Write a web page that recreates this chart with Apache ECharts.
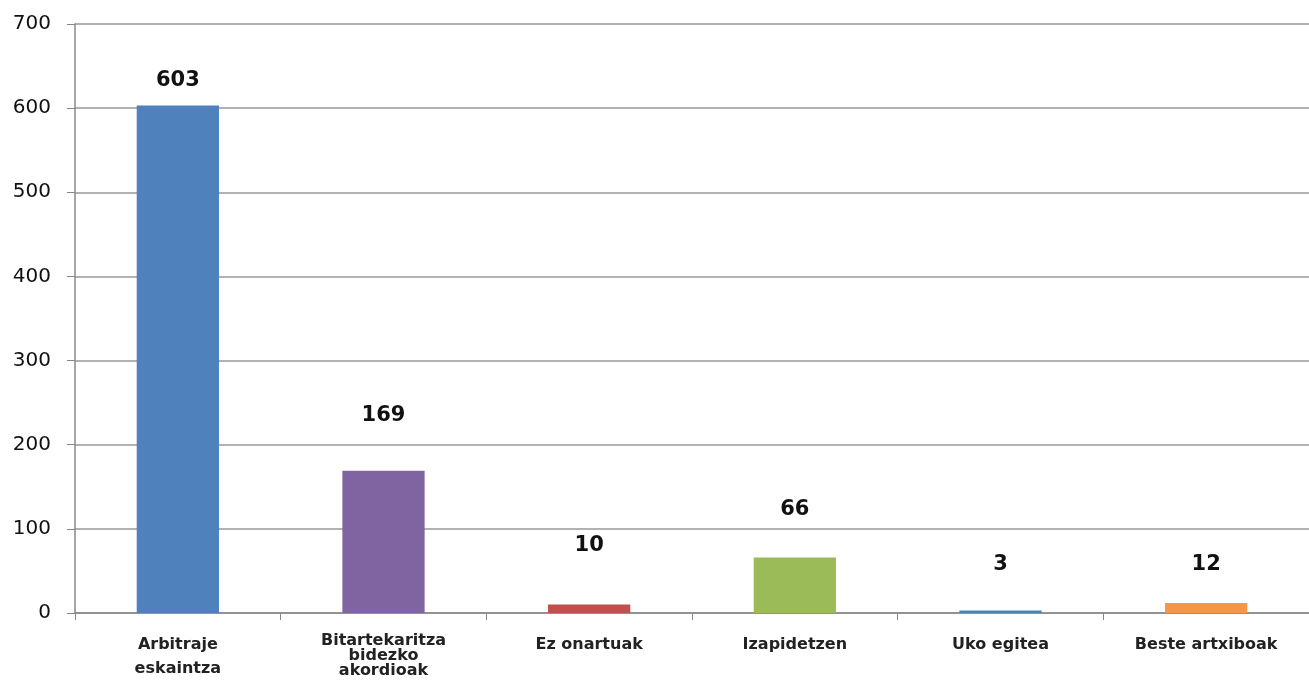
<!DOCTYPE html>
<html lang="eu">
<head>
  <meta charset="UTF-8">
  <title>Espedienteak</title>
  <script src="https://cdn.jsdelivr.net/npm/echarts@6/dist/echarts.min.js"></script>
  <style>
    html, body { margin: 0; padding: 0; background: #fff; }
    #chart { width: 1309px; height: 684px; }
  </style>
</head>
<body>
  <div id="chart"></div>
  <script>
    // datuak
    const categories = ['Arbitraje\neskaintza', 'Bitartekaritza\nbidezko\nakordioak', 'Ez onartuak', 'Izapidetzen', 'Uko egitea', 'Beste artxiboak'];
    const values = [603, 169, 10, 66, 3, 12];
    const barColors = ['#4F81BD', '#8064A2', '#C0504D', '#9BBB59', '#4F81BD', '#F79646'];
    const labelGaps = [15, 45, 49, 37, 35, 28];
    const yTicks = [0, 100, 200, 300, 400, 500, 600, 700];

    const myChart = echarts.init(document.getElementById('chart'));

    const option = {
      animation: false,
      grid: { left: 75, right: -10, top: 24, bottom: 71 },
      xAxis: {
        type: 'category',
        data: categories,
        axisLine: { lineStyle: { color: '#888', width: 1.5 } },
        axisTick: { show: true, length: 7, lineStyle: { color: '#888' } },
        axisLabel: {
          interval: 0,
          margin: 20,
          color: '#222',
          fontFamily: 'DejaVu Sans',
          fontWeight: 'bold',
          fontSize: 16,
          lineHeight: 24,
          formatter: function (v) {
            if (v.indexOf('Bitartekaritza') === 0) return '{t|' + v.replace(/\n/g, '}\n{t|') + '}';
            return v;
          },
          rich: { t: { fontFamily: 'DejaVu Sans', fontWeight: 'bold', fontSize: 16, lineHeight: 15, color: '#222' } }
        }
      },
      yAxis: {
        type: 'value',
        min: yTicks[0],
        max: yTicks[yTicks.length - 1],
        interval: 100,
        axisLine: { show: true, lineStyle: { color: '#888', width: 1.5 } },
        axisTick: { show: true, length: 8, lineStyle: { color: '#888' } },
        splitLine: { lineStyle: { color: '#999', width: 1.5 } },
        axisLabel: { margin: 24, color: '#111', fontFamily: 'DejaVu Sans', fontSize: 20 }
      },
      series: [{
        type: 'bar',
        barWidth: '40%',
        data: values.map((v, i) => ({
          value: v,
          itemStyle: { color: barColors[i] },
          label: { distance: labelGaps[i] }
        })),
        label: {
          show: true,
          position: 'top',
          color: '#111',
          fontFamily: 'DejaVu Sans',
          fontWeight: 'bold',
          fontSize: 21
        }
      }]
    };

    myChart.setOption(option);
  </script>
</body>
</html>
